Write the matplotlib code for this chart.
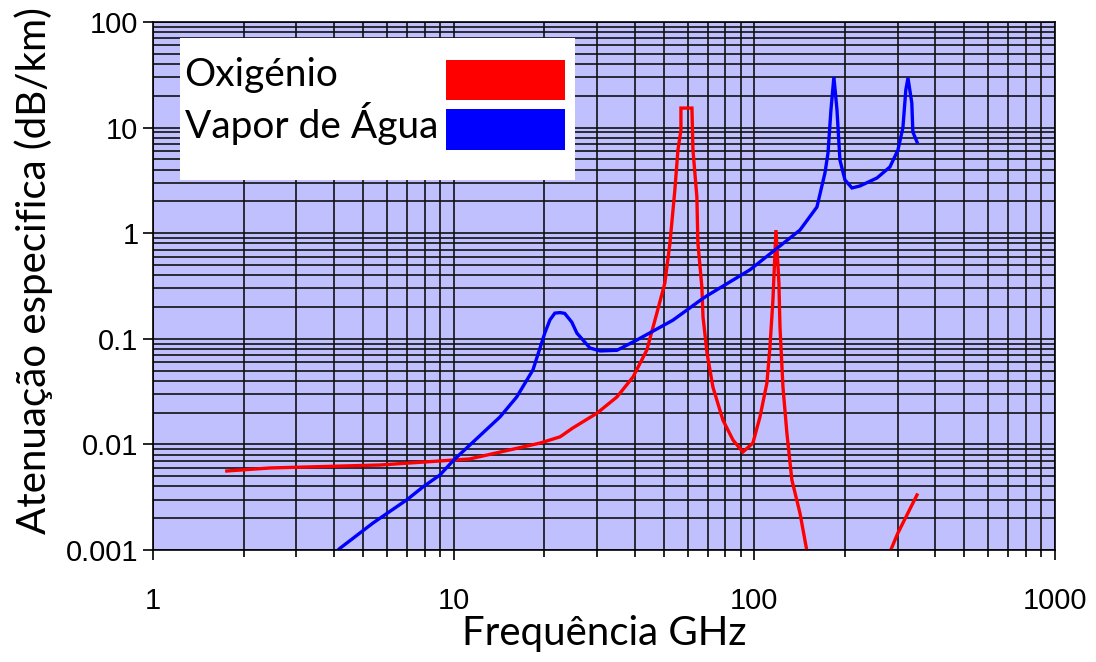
import matplotlib
matplotlib.use("Agg")
import matplotlib.pyplot as plt
from matplotlib.ticker import LogLocator, FixedLocator, FixedFormatter, NullFormatter
from matplotlib.patches import Rectangle
import numpy as np

plt.rcParams["font.family"] = ["Liberation Sans", "DejaVu Sans"]

# atenuação específica por gases atmosféricos (dB/km) vs frequência (GHz)
freq_vapor = [3.9, 4.19, 5.39, 7.0, 7.9, 9.0, 10.0, 14.26, 16.2, 18.35, 20.1, 20.9,
              21.7, 22.6, 23.4, 24.7, 25.7, 28.4, 30.7, 34.9, 40.7, 53.6, 65.9, 69.5,
              96.7, 141.8, 161.5, 171.7, 175.8, 179.8, 183.9, 188.3, 192.6, 200.2,
              211.2, 224.5, 255.7, 282.5, 300.3, 312, 319, 324.3, 334, 336.7, 347.5]
aten_vapor = [0.00087, 0.00104, 0.0018, 0.0030, 0.00395, 0.00513, 0.0071, 0.0182,
              0.0281, 0.0507, 0.1135, 0.151, 0.175, 0.177, 0.174, 0.144, 0.113, 0.0818,
              0.0767, 0.0778, 0.0975, 0.15, 0.23, 0.255, 0.45, 1.07, 1.77, 3.71, 5.75,
              14.7, 30.1, 14.7, 4.93, 3.19, 2.68, 2.8, 3.33, 4.24, 6.13, 10, 22.7, 29.5,
              17.1, 9.08, 7.31]

freq_oxig = [1.76, 2.45, 5.69, 11.3, 19.4, 22.6, 24.9, 30.0, 34.9, 39.5, 43.9, 47.4,
             50.4, 52.4, 54.4, 55.7, 57.0, 57.0, 62.0, 62.5, 64.4, 64.9, 66.9, 67.5,
             69.6, 72.8, 78.6, 84.9, 91.6, 98.9, 104.4, 110.1, 112.7, 115.3, 118.0,
             120.7, 121.7, 124.5, 128.3, 133.3, 141.8, 150.8, np.nan, 278, 300.3, 347.5]
aten_oxig = [0.0056, 0.00598, 0.00638, 0.00728, 0.0103, 0.0118, 0.0143, 0.0198, 0.0281,
             0.0435, 0.0783, 0.175, 0.338, 0.807, 2.56, 6.13, 9.48, 15.3, 15.3, 6.13,
             2.2, 0.807, 0.31, 0.161, 0.0734, 0.035, 0.017, 0.011, 0.00847, 0.0103,
             0.0182, 0.0381, 0.0836, 0.233, 1.07, 0.338, 0.129, 0.035, 0.0128, 0.0046,
             0.00224, 0.00086, np.nan, 0.00086, 0.00145, 0.00332]

nomes = ["Oxigénio", "Vapor de Água"]
cores = ["#ff0000", "#0000ff"]
xticks = [1, 10, 100, 1000]
xtick_labels = ["1", "10", "100", "1000"]
yticks = [0.001, 0.01, 0.1, 1, 10, 100]
ytick_labels = ["0.001", "0.01", "0.1", "1", "10", "100"]

fig = plt.figure(figsize=(10.96, 6.62), dpi=100)
ax = fig.add_axes([0.1396, 0.1692, 0.8230, 0.7976])
ax.set_facecolor("#c0c0ff")

ax.set_xscale("log")
ax.set_yscale("log")
ax.set_xlim(1, 1000)
ax.set_ylim(0.001, 100)

# grelha logarítmica completa
ax.xaxis.set_major_locator(FixedLocator(xticks))
ax.xaxis.set_major_formatter(FixedFormatter(xtick_labels))
ax.xaxis.set_minor_locator(LogLocator(base=10, subs=range(2, 10), numticks=20))
ax.yaxis.set_major_locator(FixedLocator(yticks))
ax.yaxis.set_major_formatter(FixedFormatter(ytick_labels))
ax.yaxis.set_minor_locator(LogLocator(base=10, subs=range(2, 10), numticks=20))
ax.xaxis.set_minor_formatter(NullFormatter())
ax.yaxis.set_minor_formatter(NullFormatter())
ax.grid(True, which="both", color="#111111", linewidth=1.2)
ax.set_axisbelow(True)

ax.tick_params(axis="both", which="major", direction="out", length=7.5, width=1.2,
               labelsize=21, color="black")
ax.tick_params(axis="x", which="major", pad=19)
ax.tick_params(axis="y", which="major", pad=3)
ax.tick_params(axis="x", which="minor", direction="out", length=5, width=1.2)
ax.tick_params(axis="y", which="minor", length=0)

for sp in ax.spines.values():
    sp.set_color("black")
    sp.set_linewidth(1.2)

ax.plot(freq_oxig, aten_oxig, color=cores[0], linewidth=2.4, solid_joinstyle="miter")
ax.plot(freq_vapor, aten_vapor, color=cores[1], linewidth=2.4, solid_joinstyle="miter")

rotulo_fonte = ["Lato", "DejaVu Sans"]
ax.set_xlabel("Frequência GHz", fontsize=29, family=rotulo_fonte, labelpad=0)
ax.set_ylabel("Atenuação especifica (dB/km)", fontsize=29, family=rotulo_fonte)
ax.yaxis.set_label_coords(-0.111, 0.53)

# legenda desenhada à mão: texto à esquerda, caixa de cor à direita
ax.add_patch(Rectangle((0.0299, 0.7008), 0.4379, 0.2689, transform=ax.transAxes,
                       facecolor="white", edgecolor="none", zorder=5))
ax.add_patch(Rectangle((0.3248, 0.8523), 0.1319, 0.0758, transform=ax.transAxes,
                       facecolor=cores[0], edgecolor="none", zorder=6))
ax.add_patch(Rectangle((0.3248, 0.7576), 0.1319, 0.0777, transform=ax.transAxes,
                       facecolor=cores[1], edgecolor="none", zorder=6))
ax.text(0.035, 0.8788, nomes[0], transform=ax.transAxes, fontsize=28,
        family=rotulo_fonte, va="baseline", ha="left", zorder=7)
ax.text(0.035, 0.7803, nomes[1], transform=ax.transAxes, fontsize=28,
        family=rotulo_fonte, va="baseline", ha="left", zorder=7)

fig.savefig("out.png", dpi=100)
